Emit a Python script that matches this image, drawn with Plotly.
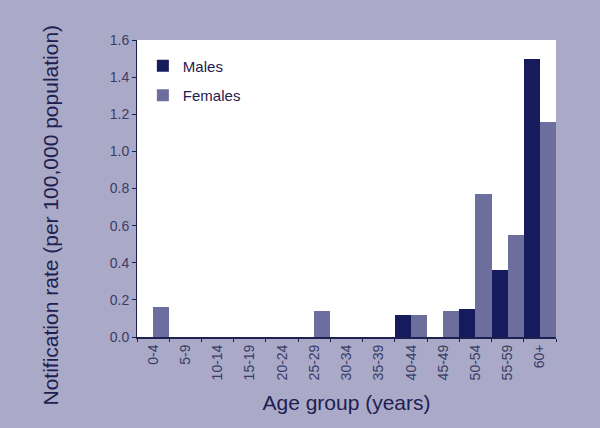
import plotly.graph_objects as go

age_groups = ["0-4", "5-9", "10-14", "15-19", "20-24", "25-29", "30-34",
              "35-39", "40-44", "45-49", "50-54", "55-59", "60+"]
males = [0, 0, 0, 0, 0, 0, 0, 0, 0.12, 0, 0.15, 0.36, 1.50]
females = [0.16, 0, 0, 0, 0, 0.14, 0, 0, 0.12, 0.14, 0.77, 0.55, 1.16]
y_title = "Notification rate (per 100,000 population)"
x_title = "Age group (years)"

fig = go.Figure()
fig.add_trace(go.Bar(x=age_groups, y=males, name="Males", legendgroup="m",
                     marker=dict(color="#161b5c", line=dict(width=0))))
fig.add_trace(go.Bar(x=age_groups, y=females, name="Females", legendgroup="f",
                     marker=dict(color="#6c6e9e", line=dict(width=0))))

fig.update_layout(
    width=600, height=428,
    paper_bgcolor="#aaaac8",
    plot_bgcolor="#ffffff",
    barmode="group", bargap=0, bargroupgap=0,
    margin=dict(l=137, r=44, t=40, b=91),
    font=dict(family="Liberation Sans, Arial, sans-serif", color="#1e2050"),
    legend=dict(x=0.014, y=0.968, xanchor="left", yanchor="top",
                bgcolor="rgba(0,0,0,0)", font=dict(size=15, color="#1e2050"),
                itemwidth=30, tracegroupgap=7),
    showlegend=True,
)
fig.add_annotation(text=y_title, textangle=-90, showarrow=False,
                   xref="paper", yref="paper", x=-0.207, y=0.41,
                   xanchor="center", yanchor="middle",
                   font=dict(size=21, color="#1e2050"))
fig.update_xaxes(
    type="category", tickangle=-90, tickson="boundaries",
    ticks="outside", ticklen=3, tickcolor="#1e2050",
    showline=True, linecolor="#1e2050", linewidth=2,
    tickfont=dict(size=14, color="#3a3c66"),
    title=dict(text=x_title, font=dict(size=21, color="#1e2050"), standoff=16),
    showgrid=False, automargin=False,
)
fig.update_yaxes(
    range=[0, 1.6], dtick=0.2, tickformat=".1f",
    ticks="outside", ticklen=4, tickcolor="#1e2050",
    showline=True, linecolor="#1e2050", linewidth=1,
    tickfont=dict(size=14, color="#3a3c66"),
    showgrid=False, zeroline=False, automargin=False,
)

fig.write_html("out.html", config={"displayModeBar": False},
               post_script="document.body.style.margin='0';document.body.style.padding='0';")
